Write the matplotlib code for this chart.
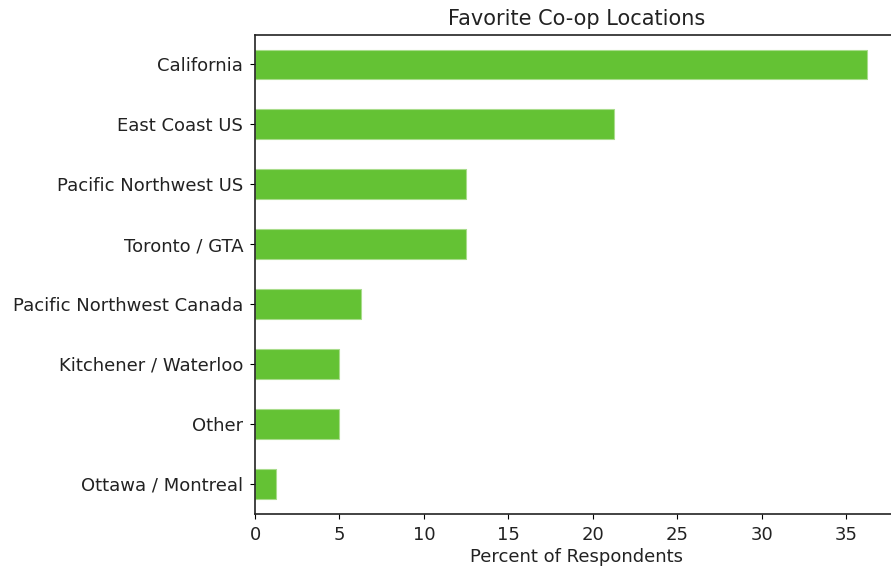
import numpy as np
import matplotlib
matplotlib.use("Agg")
import matplotlib.pyplot as plt

# Datos (porcentaje de encuestados, n=80)
ubicaciones = ["Ottawa / Montreal", "Other", "Kitchener / Waterloo", "Pacific Northwest Canada",
               "Toronto / GTA", "Pacific Northwest US", "East Coast US", "California"]
porcentajes = [1.25, 5.0, 5.0, 6.25, 12.5, 12.5, 21.25, 36.25]
ticks_x = [0, 5, 10, 15, 20, 25, 30, 35]

plt.rcParams["font.family"] = ["DejaVu Sans"]

fig = plt.figure(figsize=(8.91, 5.68), dpi=100)
# el eje se sale por la derecha como en la imagen original
ax = fig.add_axes([0.2862, 0.0959, 0.7217, 0.8433])

y = np.arange(len(ubicaciones))
ax.barh(y, porcentajes, height=0.5, color="#64c234", edgecolor="#a9dc8c", linewidth=0.8)

ax.set_yticks(y)
ax.set_yticklabels(ubicaciones, fontsize=13, color="#222222")
ax.set_xticks(ticks_x)
ax.set_xticklabels([str(t) for t in ticks_x], fontsize=13, color="#222222")
ax.set_xlim(0, max(porcentajes) * 1.05)
ax.set_ylim(-0.5, len(ubicaciones) - 0.5)
ax.tick_params(axis="y", pad=5)
ax.tick_params(axis="x", pad=5.5)

ax.set_xlabel("Percent of Respondents", fontsize=13, color="#222222", labelpad=3)
ax.set_title("Favorite Co-op Locations", fontsize=15, color="#222222", pad=7)

for s in ax.spines.values():
    s.set_color("#222222")
    s.set_linewidth(1.2)
ax.spines["right"].set_visible(False)

plt.savefig("out.png", dpi=100)
